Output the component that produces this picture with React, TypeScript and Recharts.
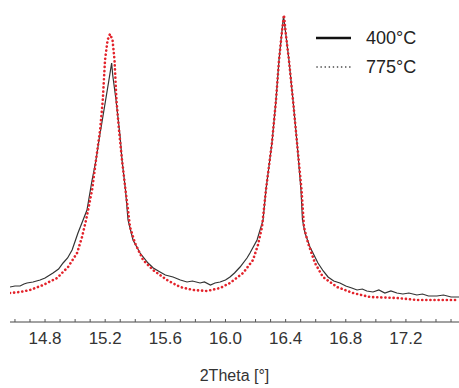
import React from "react";
import { LineChart, Line, XAxis, YAxis, Label } from "recharts";

// 2Theta positions (deg) and intensities (arb. units)
const theta400 = [
  14.567, 14.6, 14.634, 14.66, 14.68, 14.72, 14.767, 14.8, 14.853, 14.89, 14.92, 14.95, 14.98,
  15.019, 15.053, 15.079, 15.113, 15.139, 15.159, 15.203, 15.225, 15.243, 15.25, 15.272, 15.299,
  15.312, 15.335, 15.352, 15.385, 15.432, 15.485, 15.52, 15.565, 15.6, 15.651, 15.7, 15.744,
  15.78, 15.831, 15.86, 15.9, 15.93, 15.964, 16.0, 16.03, 16.06, 16.097, 16.143, 16.163, 16.21,
  16.25, 16.269, 16.309, 16.336, 16.356, 16.373, 16.386, 16.402, 16.422, 16.449, 16.476, 16.502,
  16.512, 16.529, 16.562, 16.615, 16.65, 16.682, 16.72, 16.761, 16.8, 16.84, 16.875, 16.91, 16.94,
  16.981, 17.02, 17.06, 17.1, 17.14, 17.18, 17.22, 17.273, 17.31, 17.35, 17.406, 17.45, 17.5, 17.553,
];
const int400 = [
  35, 36, 36, 38, 39, 40, 42, 44, 49, 53, 59, 64, 72,
  89, 102, 112, 142, 162, 182, 222, 242, 259, 247, 222, 186,
  162, 132, 102, 82, 69, 59, 54, 50, 47, 45, 42, 40,
  41, 39, 40, 37, 39, 40, 42, 45, 49, 55, 64, 69, 82,
  102, 132, 179, 222, 262, 287, 306, 287, 262, 222, 179, 132,
  102, 89, 75, 59, 51, 45, 41, 39, 36, 34, 32, 33, 31,
  30, 32, 29, 31, 29, 28, 29, 27, 28, 26, 26, 27, 25, 25,
];

const theta775 = [
  14.567, 14.634, 14.7, 14.787, 14.88, 14.953, 15.013, 15.046, 15.073, 15.093, 15.113, 15.139,
  15.166, 15.184, 15.199, 15.216, 15.232, 15.249, 15.262, 15.275, 15.292, 15.312, 15.335, 15.352,
  15.365, 15.398, 15.452, 15.518, 15.611, 15.698, 15.784, 15.877, 15.964, 16.03, 16.117, 16.183,
  16.216, 16.243, 16.269, 16.309, 16.336, 16.356, 16.373, 16.389, 16.402, 16.422, 16.449, 16.476,
  16.506, 16.522, 16.549, 16.595, 16.648, 16.742, 16.848, 16.961, 17.14, 17.273, 17.406, 17.553,
];
const int775 = [
  29, 30, 32, 37, 44, 55, 69, 85, 102, 117, 132, 162,
  192, 222, 262, 282, 288, 282, 262, 222, 192, 162, 132, 112,
  95, 79, 62, 52, 42, 35, 32, 31, 34, 39, 49, 62,
  77, 95, 132, 179, 222, 262, 287, 307, 287, 262, 222, 179,
  132, 95, 79, 59, 45, 35, 29, 25, 24, 22, 22, 22,
];

const majorTicks = [14.8, 15.2, 15.6, 16.0, 16.4, 16.8, 17.2];
const minorTicks = [
  14.6, 14.7, 14.8, 14.9, 15.0, 15.1, 15.2, 15.3, 15.4, 15.5, 15.6, 15.7, 15.8, 15.9, 16.0,
  16.1, 16.2, 16.3, 16.4, 16.5, 16.6, 16.7, 16.8, 16.9, 17.0, 17.1, 17.2, 17.3, 17.4, 17.5,
];
const seriesNames = ["400°C", "775°C"];
const xLabel = "2Theta [°]";

const data400 = theta400.map((t, i) => ({ theta: t, intensity: int400[i] }));
const data775 = theta775.map((t, i) => ({ theta: t, intensity: int775[i] }));

const FONT = "'Liberation Sans', Arial, sans-serif";

export default function App() {
  return (
    <div style={{ position: "absolute", left: 0, top: 0, width: 459, height: 388, fontFamily: FONT }}>
      <LineChart width={459} height={388} margin={{ top: 0, right: 0, bottom: 0, left: 10 }}>
        <XAxis
          type="number"
          dataKey="theta"
          domain={[14.567, 17.553]}
          allowDataOverflow
          ticks={majorTicks}
          interval={0}
          tickFormatter={(v: number) => v.toFixed(1)}
          height={66}
          tickLine={false}
          tickSize={6}
          tickMargin={4}
          axisLine={{ stroke: "#444", strokeWidth: 1 }}
          tick={{ fill: "#333", fontSize: 17, fontFamily: FONT }}
        >
          <Label value={xLabel} position="insideBottom" offset={7} fill="#333" fontSize={16} fontFamily={FONT} />
        </XAxis>
        <XAxis
          xAxisId="minor"
          type="number"
          dataKey="theta"
          domain={[14.567, 17.553]}
          allowDataOverflow
          ticks={minorTicks}
          interval={0}
          mirror
          tickFormatter={() => ""}
          tick={{ fontSize: 1 }}
          axisLine={false}
          tickSize={3}
          tickLine={{ stroke: "#555", strokeWidth: 1 }}
        />
        <YAxis hide type="number" domain={[0, 322]} allowDataOverflow />
        <Line
          data={data400}
          dataKey="intensity"
          name={seriesNames[0]}
          type="linear"
          dot={false}
          stroke="#333"
          strokeWidth={1.2}
          isAnimationActive={false}
        />
        <Line
          data={data775}
          dataKey="intensity"
          name={seriesNames[1]}
          type="linear"
          dot={false}
          stroke="#e3232b"
          strokeWidth={2.6}
          strokeDasharray="0.1 4"
          strokeLinecap="round"
          isAnimationActive={false}
        />
      </LineChart>
      <div style={{ position: "absolute", left: 316, top: 26, color: "#222", fontSize: 18, fontFamily: FONT }}>
        <div style={{ display: "flex", alignItems: "center", height: 24 }}>
          <svg width={36} height={6} style={{ marginRight: 14 }}>
            <line x1={0} y1={3} x2={35} y2={3} stroke="#111" strokeWidth={2.5} />
          </svg>
          <span>{seriesNames[0]}</span>
        </div>
        <div style={{ display: "flex", alignItems: "center", height: 24, marginTop: 5 }}>
          <svg width={36} height={6} style={{ marginRight: 14 }}>
            <line x1={1} y1={3} x2={35} y2={3} stroke="#333" strokeWidth={1.6} strokeDasharray="0.1 4" strokeLinecap="round" />
          </svg>
          <span>{seriesNames[1]}</span>
        </div>
      </div>
    </div>
  );
}
